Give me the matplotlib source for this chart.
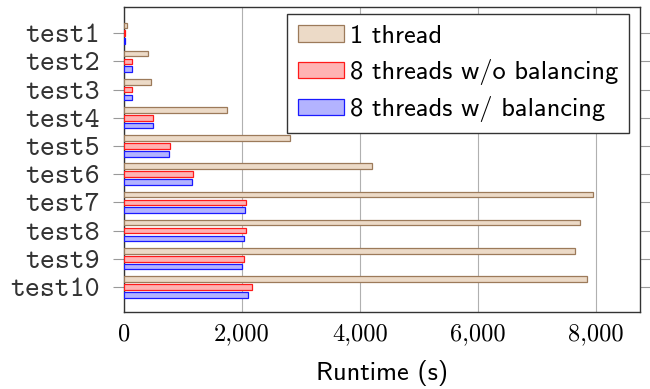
import matplotlib
matplotlib.use("Agg")
import matplotlib.pyplot as plt
from matplotlib.ticker import FuncFormatter
import numpy as np

categories = ["test1", "test2", "test3", "test4", "test5",
              "test6", "test7", "test8", "test9", "test10"]
one_thread = [45, 400, 457, 1746, 2813, 4203, 7949, 7729, 7650, 7842]
eight_no_bal = [20, 130, 140, 497, 774, 1164, 2062, 2062, 2028, 2164]
eight_bal = [20, 130, 140, 486, 757, 1147, 2051, 2034, 1994, 2102]
series_labels = ["1 thread", "8 threads w/o balancing", "8 threads w/ balancing"]
xticks = [0, 2000, 4000, 6000, 8000]

fig = plt.figure(figsize=(6.5, 3.89), dpi=100)
ax = fig.add_axes([0.1908, 0.198, 0.9846 - 0.1908, 0.982 - 0.198])

pos = np.arange(1, len(categories) + 1)
h = 0.2
off = 0.28
styles = [
    dict(color="#ecdac7", edgecolor="#9c7a5a"),
    dict(color="#ffb3b3", edgecolor="#ff1a1a"),
    dict(color="#b3b3ff", edgecolor="#1a1aff"),
]
for i, (vals, lab, st) in enumerate(zip([one_thread, eight_no_bal, eight_bal], series_labels, styles)):
    ax.barh(pos + (i - 1) * off, vals, height=h, label=lab,
            color=st["color"], edgecolor=st["edgecolor"], linewidth=0.9, zorder=3)

ax.set_xlim(0, 8746)
ax.set_ylim(10.89, 0.07)
ax.set_yticks(pos)
ax.set_yticklabels(categories, fontfamily="cmtt10", fontsize=20.5, color="#333333")
ax.set_xticks(xticks)
ax.xaxis.set_major_formatter(FuncFormatter(lambda v, p: "{:,}".format(int(v))))
for t in ax.get_xticklabels():
    t.set_fontfamily("cmr10")
    t.set_fontsize(17.5)
ax.grid(axis="x", color="#b0b0b0", linewidth=0.8, zorder=0)
ax.tick_params(axis="y", which="both", direction="out", length=8, color="#999999",
               left=True, right=True, pad=9.4)
ax.tick_params(axis="x", direction="in", length=0, top=False, pad=8)
for s in ax.spines.values():
    s.set_color("#333333")
    s.set_linewidth(1.0)
ax.set_xlabel("Runtime (s)", fontfamily="cmss10", fontsize=19, labelpad=11)

leg = ax.legend(loc="upper right", bbox_to_anchor=(0.979, 0.977),
                borderaxespad=0,
                prop={"family": "cmss10", "size": 19},
                fancybox=False, framealpha=1, edgecolor="#333333",
                handlelength=1.74, handleheight=0.6, handletextpad=0.22,
                borderpad=0.42, labelspacing=0.42)
leg.get_frame().set_linewidth(1.0)
leg.set_zorder(5)

fig.savefig("out.png", dpi=100)
